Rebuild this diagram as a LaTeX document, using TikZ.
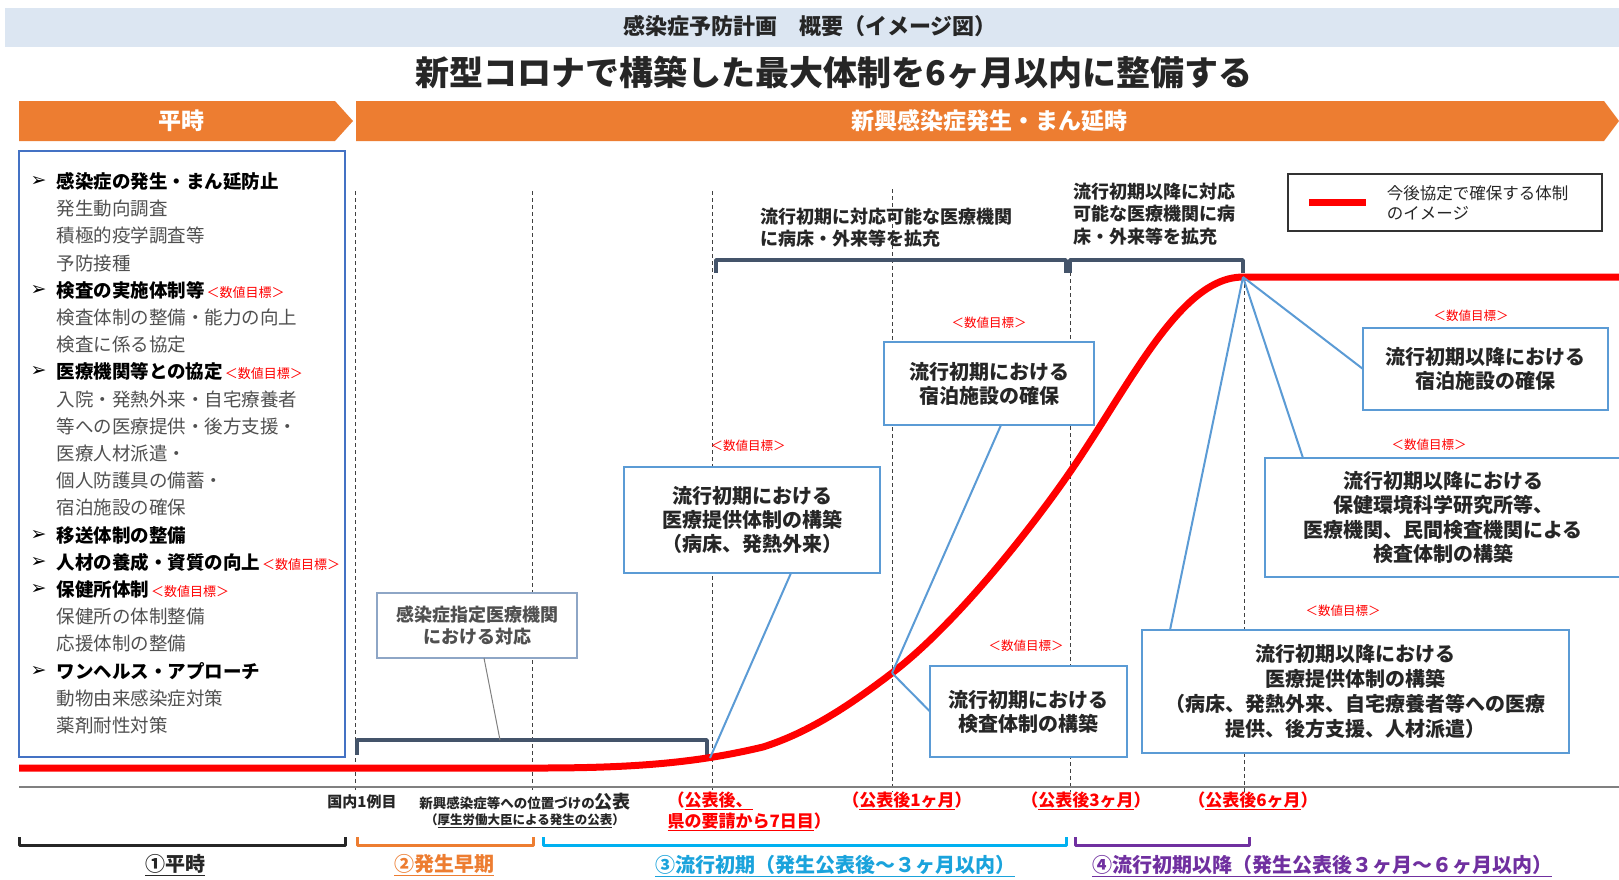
\documentclass[tikz,border=0pt]{standalone}
\usepackage{fontspec}
\setmainfont{Noto Sans CJK JP}
\newfontfamily\dvfont{DejaVu Sans}
\definecolor{hdrc}{HTML}{DCE6F2}
\definecolor{orngc}{HTML}{ED7D31}
\definecolor{lboxc}{HTML}{4472C4}
\definecolor{cboxc}{HTML}{5B9BD5}
\definecolor{aboxc}{HTML}{8EA6C6}
\definecolor{brkc}{HTML}{44546A}
\definecolor{txtc}{HTML}{262626}
\definecolor{subc}{HTML}{505050}
\definecolor{cyanc}{HTML}{00B0F0}
\definecolor{cyant}{HTML}{1AA3DC}
\definecolor{purpc}{HTML}{7030A0}
\definecolor{redc}{HTML}{FF0000}
\definecolor{axisc}{HTML}{808080}
\newcommand\fsz[2]{\fontsize{#1}{#2}\selectfont}
\newcommand\goalmark{\hspace{2pt}\textcolor{redc}{\fsz{13}{15}\mdseries ＜数値目標＞}}
\begin{document}
\begin{tikzpicture}[x=1pt,y=-1pt,
  vline/.style={draw=black!75,line width=1pt,dash pattern=on 4pt off 3pt},
  brk/.style={draw=brkc,line width=3.5pt,line join=round},
  curve/.style={draw=redc,line width=7pt,line join=round},
  conn/.style={draw=cboxc,line width=2pt},
  callout/.style={draw=cboxc,line width=2.5pt,fill=white,inner sep=0pt,outer sep=0pt,align=center,font=\bfseries\fsz{20}{24},text=txtc},
  goal/.style={text=redc,font=\fsz{12.5}{14}},
  lhead/.style={anchor=west,font=\bfseries\fsz{18.5}{22},text=black},
  litem/.style={anchor=west,font=\fsz{18.5}{22},text=subc},
  larrow/.style={anchor=west,font=\dvfont\fsz{19}{20},text=black},
  brtxt/.style={anchor=west,align=left,font=\bfseries\fsz{18}{22},text=txtc},
  datelbl/.style={font=\bfseries\fsz{17}{21},text=redc},
  period/.style={line width=3pt,line join=round},
  plabel/.style={font=\bfseries\fsz{20}{24}},
  chevtxt/.style={text=white,font=\bfseries\fsz{23}{26}},
]
\useasboundingbox (0,0) rectangle (1619,879);
\clip (0,0) rectangle (1619,879);
\fill[white] (0,0) rectangle (1619,879);

% header
\fill[hdrc] (5,8) rectangle (1619,47);
\node[font=\bfseries\fsz{22}{26},text=txtc] (hdr) at (810,26) {感染症予防計画　概要（イメージ図）};
\node[font=\bfseries\fsz{34}{40},text=txtc] (title) at (834,73) {新型コロナで構築した最大体制を6ヶ月以内に整備する};

% chevrons
\fill[orngc] (19,101) -- (335,101) -- (353,121) -- (335,141) -- (19,141) -- cycle;
\fill[orngc] (356,101) -- (1604,101) -- (1619,121) -- (1604,141) -- (356,141) -- cycle;
\node[chevtxt] (heiji) at (181,121) {平時};
\node[chevtxt] (hassei) at (989,121) {新興感染症発生・まん延時};

% left box
\draw[lboxc,line width=2.5pt] (19,151) rectangle (345,757);
\node[larrow] (a1) at (27,181.5) {➢};
\node[lhead] (l1) at (53,181.5) {感染症の発生・まん延防止};
\node[litem] (l2) at (53,208.7) {発生動向調査};
\node[litem] (l3) at (53,235.9) {積極的疫学調査等};
\node[litem] (l4) at (53,263.1) {予防接種};
\node[larrow] (a5) at (27,290.3) {➢};
\node[lhead] (l5) at (53,290.3) {検査の実施体制等\goalmark};
\node[litem] (l6) at (53,317.5) {検査体制の整備・能力の向上};
\node[litem] (l7) at (53,344.7) {検査に係る協定};
\node[larrow] (a8) at (27,371.9) {➢};
\node[lhead] (l8) at (53,371.9) {医療機関等との協定\goalmark};
\node[litem] (l9) at (53,399.1) {入院・発熱外来・自宅療養者};
\node[litem] (l10) at (53,426.3) {等への医療提供・後方支援・};
\node[litem] (l11) at (53,453.5) {医療人材派遣・};
\node[litem] (l12) at (53,480.7) {個人防護具の備蓄・};
\node[litem] (l13) at (53,507.9) {宿泊施設の確保};
\node[larrow] (a14) at (27,535.1) {➢};
\node[lhead] (l14) at (53,535.1) {移送体制の整備};
\node[larrow] (a15) at (27,562.3) {➢};
\node[lhead] (l15) at (53,562.3) {人材の養成・資質の向上\goalmark};
\node[larrow] (a16) at (27,589.5) {➢};
\node[lhead] (l16) at (53,589.5) {保健所体制\goalmark};
\node[litem] (l17) at (53,616.7) {保健所の体制整備};
\node[litem] (l18) at (53,643.9) {応援体制の整備};
\node[larrow] (a19) at (27,671.1) {➢};
\node[lhead] (l19) at (53,671.1) {ワンヘルス・アプローチ};
\node[litem] (l20) at (53,698.3) {動物由来感染症対策};
\node[litem] (l21) at (53,725.5) {薬剤耐性対策};

% dashed time lines
\draw[vline] (355,191) -- (355,792);
\draw[vline] (532,191) -- (532,792);
\draw[vline] (712,191) -- (712,792);
\draw[vline] (892,189) -- (892,792);
\draw[vline] (1070,272) -- (1070,792);
\draw[vline] (1244,277) -- (1244,792);

% brackets
\draw[brk] (357,755) -- (357,740) -- (707,740) -- (707,755);
\draw[brk] (716,273) -- (716,260) -- (1066,260) -- (1066,273);
\draw[brk] (1070,273) -- (1070,260) -- (1243,260) -- (1243,273);
\coordinate (bka) at (500,740);
\node[brtxt] (br1) at (757,228) {流行初期に対応可能な医療機関\\に病床・外来等を拡充};
\node[brtxt,font=\bfseries\fsz{18}{22.5}] (br2) at (1070,214) {流行初期以降に対応\\可能な医療機関に病\\床・外来等を拡充};

% axis
\draw[axisc,line width=1.5pt] (19,787) -- (1619,787);

% red curve
\draw[curve] (19,768) -- (540,768)
  .. controls (640,768) and (700,762) .. (763,747)
  .. controls (810,732) and (850,705) .. (892,673)
  .. controls (955,625) and (1030,530) .. (1070,472)
  .. controls (1130,385) and (1180,277) .. (1243,277)
  -- (1619,277);
\coordinate (c0) at (710,758);
\coordinate (c1) at (892,673);
\coordinate (peak) at (1243,277);

% callout boxes
\node[callout,draw=aboxc,line width=1.5pt,font=\bfseries\fsz{18}{22},text=subc,minimum width=200pt,minimum height=65pt] (boxa) at (477,625.5) {感染症指定医療機関\\における対応};
\node[callout,minimum width=256pt,minimum height=106pt] (boxb) at (752,520) {流行初期における\\医療提供体制の構築\\（病床、発熱外来）};
\node[callout,minimum width=210pt,minimum height=83pt] (boxc) at (989,383.5) {流行初期における\\宿泊施設の確保};
\node[callout,minimum width=197pt,minimum height=91pt] (boxd) at (1028.5,711.5) {流行初期における\\検査体制の構築};
\node[callout,font=\bfseries\fsz{20}{23.5},minimum width=245pt,minimum height=82pt] (boxe) at (1485.5,369) {流行初期以降における\\宿泊施設の確保};
\node[callout,font=\bfseries\fsz{20}{24.5},minimum width=356pt,minimum height=119pt] (boxf) at (1443,517.5) {流行初期以降における\\保健環境科学研究所等、\\医療機関、民間検査機関による\\検査体制の構築};
\node[callout,font=\bfseries\fsz{20}{24.7},minimum width=427pt,minimum height=123pt] (boxg) at (1355.5,691.5) {流行初期以降における\\医療提供体制の構築\\（病床、発熱外来、自宅療養者等への医療\\提供、後方支援、人材派遣）};

% connectors
\draw[draw=axisc,line width=1pt] ([xshift=7pt]boxa.south) -- (bka);
\draw[conn] ([xshift=39pt]boxb.south) -- (c0);
\draw[conn] ([xshift=12pt]boxc.south) -- (c1);
\draw[conn] (boxd.west) -- (c1);
\draw[conn] (peak) -- (boxe.west);
\draw[conn] (peak) -- ([xshift=38pt]boxf.north west);
\draw[conn] (peak) -- ([xshift=28pt]boxg.north west);

% numeric target labels
\node[goal] (gb) at (748,446) {＜数値目標＞};
\node[goal] (gc) at (989,323) {＜数値目標＞};
\node[goal] (gd) at (1026,646) {＜数値目標＞};
\node[goal] (ge) at (1471,316) {＜数値目標＞};
\node[goal] (gf) at (1429,445) {＜数値目標＞};
\node[goal] (gg) at (1343,611) {＜数値目標＞};

% legend
\node[draw=black!80,line width=1.3pt,minimum width=314pt,minimum height=57pt,inner sep=0pt] (legend) at (1445,202.5) {};
\draw[redc,line width=7pt] ([xshift=22pt]legend.west) -- ([xshift=79pt]legend.west);
\node[anchor=west,align=left,font=\fsz{16.5}{20},text=txtc] (legtxt) at ([xshift=96pt]legend.west) {今後協定で確保する体制\\のイメージ};

% time labels
\node[font=\bfseries\fsz{15}{18},text=txtc] (first) at (362,802) {国内1例目};
\node[font=\bfseries\fsz{13.5}{16},text=txtc] (pub1) at (525,802) {新興感染症等への位置づけの{\fsz{18}{20}公表}};
\node[font=\bfseries\fsz{12.5}{15},text=txtc] (pub2) at (525,821) {（\underline{厚生労働大臣による発生の公表}）};
\node[datelbl,anchor=west] (d7a) at (664,801) {（\underline{公表後、}};
\node[datelbl,anchor=west] (d7b) at (664,822) {\underline{県の要請から7日目}）};
\node[datelbl] (d1) at (907,801) {（\underline{公表後1ヶ月}）};
\node[datelbl] (d3) at (1086,801) {（\underline{公表後3ヶ月}）};
\node[datelbl] (d6) at (1253,801) {（\underline{公表後6ヶ月}）};

% period brackets
\draw[period,draw=txtc] (19,837) -- (19,845) -- (345,845) -- (345,837);
\draw[period,draw=orngc] (357,837) -- (357,845) -- (533,845) -- (533,837);
\draw[period,draw=cyanc] (543,837) -- (543,845) -- (1066,845) -- (1066,837);
\draw[period,draw=purpc] (1075,837) -- (1075,845) -- (1249,845) -- (1249,837);
\node[plabel,text=txtc] (p1) at (175,865) {\underline{①平時}};
\node[plabel,text=orngc] (p2) at (444,865) {\underline{②発生早期}};
\node[plabel,text=cyant] (p3) at (835,866) {\underline{③流行初期（発生公表後～３ヶ月以内）}};
\node[plabel,text=purpc] (p4) at (1322,866) {\underline{④流行初期以降（発生公表後３ヶ月～６ヶ月以内）}};
\end{tikzpicture}
\end{document}
